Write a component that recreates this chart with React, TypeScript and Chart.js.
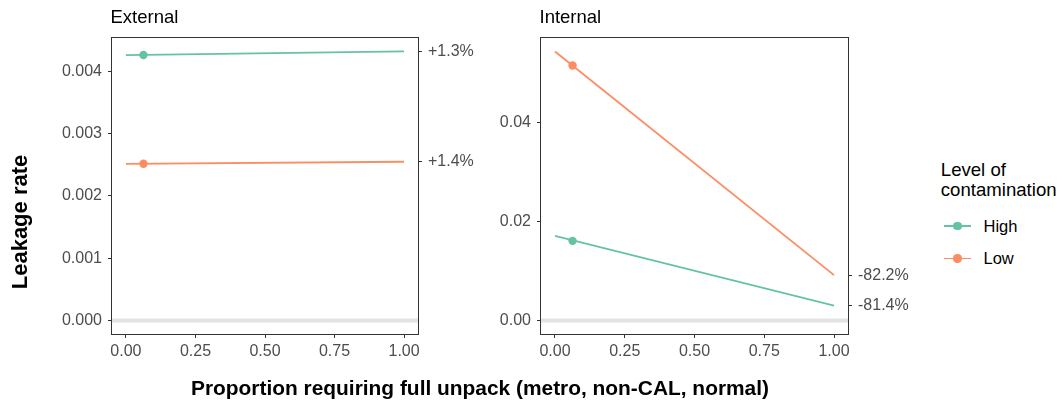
import React, { useEffect, useRef } from "react";
import { Chart, registerables } from "chart.js";

Chart.register(...registerables);

// ---------- data ----------
const X_ENDS = [0, 1];
const POINT_X = 0.063;
const X_TICKS = [0, 0.25, 0.5, 0.75, 1];
const X_LABELS = ["0.00", "0.25", "0.50", "0.75", "1.00"];
const SERIES = ["High", "Low"];
const COLORS = ["#66C2A5", "#FC8D62"];
const REF_LINE = 0;

const EXT_HIGH = [0.00426, 0.004318];
const EXT_LOW = [0.002513, 0.002548];
const EXT_HIGH_PT = 0.004262;
const EXT_LOW_PT = 0.002515;
const EXT_Y_TICKS = [0, 0.001, 0.002, 0.003, 0.004];
const EXT_Y_LABELS = ["0.000", "0.001", "0.002", "0.003", "0.004"];
const EXT_CHANGE = ["+1.3%", "+1.4%"];

const INT_HIGH = [0.0171, 0.00299];
const INT_LOW = [0.0543, 0.00916];
const INT_HIGH_PT = 0.01608;
const INT_LOW_PT = 0.05146;
const INT_Y_TICKS = [0, 0.02, 0.04];
const INT_Y_LABELS = ["0.00", "0.02", "0.04"];
const INT_CHANGE = ["-81.4%", "-82.2%"];

const FONT = "'Liberation Sans', Arial, Helvetica, sans-serif";
const TICK_COLOR = "#4D4D4D";
const FRAME = "#333333";

type PanelSpec = {
  title: string;
  high: number[];
  low: number[];
  highPt: number;
  lowPt: number;
  yTicks: number[];
  yLabels: string[];
  change: string[];
  leftW: number;
  rightW: number;
};

function panelPlugin(title: string) {
  return {
    id: "panelDecor",
    beforeDatasetsDraw(chart: any) {
      const { ctx, chartArea: a, scales } = chart;
      const y = scales.y.getPixelForValue(REF_LINE);
      ctx.save();
      ctx.strokeStyle = "#E3E3E3";
      ctx.lineWidth = 4;
      ctx.beginPath();
      ctx.moveTo(a.left, y);
      ctx.lineTo(a.right, y);
      ctx.stroke();
      ctx.restore();
    },
    afterDraw(chart: any) {
      const { ctx, chartArea: a } = chart;
      ctx.save();
      ctx.strokeStyle = FRAME;
      ctx.lineWidth = 1;
      ctx.strokeRect(a.left - 0.5, a.top - 0.5, a.right - a.left + 1, a.bottom - a.top + 1);
      ctx.fillStyle = "#000";
      ctx.font = `18.5px ${FONT}`;
      ctx.textBaseline = "alphabetic";
      ctx.textAlign = "left";
      ctx.fillText(title, a.left - 1.5, 23.3);
      ctx.restore();
    },
  };
}

function makePanel(canvas: HTMLCanvasElement, p: PanelSpec) {
  const allY = [...p.high, ...p.low, p.highPt, p.lowPt, REF_LINE];
  const lo = Math.min(...allY);
  const hi = Math.max(...allY);
  const pad = (hi - lo) * 0.05;
  const yMin = lo - pad;
  const yMax = hi + pad;
  const ends = [p.high[1], p.low[1]];

  const grid = {
    drawOnChartArea: false,
    drawTicks: true,
    tickLength: 4,
    color: FRAME,
    lineWidth: 1,
  };
  const tickFont = { family: FONT, size: 16 };

  const seriesVals = [p.high, p.low];
  const ptVals = [p.highPt, p.lowPt];
  const datasets: any[] = [];
  SERIES.forEach((name, i) => {
    datasets.push({
      label: name,
      data: X_ENDS.map((x, j) => ({ x, y: seriesVals[i][j] })),
      showLine: true,
      borderColor: COLORS[i],
      backgroundColor: COLORS[i],
      borderWidth: 1.8,
      pointRadius: 0,
      pointHoverRadius: 0,
      yAxisID: "y",
    });
    datasets.push({
      label: name + " point",
      data: [{ x: POINT_X, y: ptVals[i] }],
      showLine: false,
      backgroundColor: COLORS[i],
      borderColor: COLORS[i],
      borderWidth: 0,
      pointRadius: 4.2,
      pointHoverRadius: 4.2,
      yAxisID: "y",
    });
  });

  return new Chart(canvas, {
    type: "scatter",
    data: { datasets },
    plugins: [panelPlugin(p.title) as any],
    options: {
      animation: false,
      responsive: false,
      devicePixelRatio: 1,
      events: [],
      layout: { padding: { top: 38, left: 0, right: 0, bottom: 0 } },
      plugins: { legend: { display: false }, tooltip: { enabled: false }, title: { display: false } },
      scales: {
        x: {
          type: "linear",
          min: -0.05,
          max: 1.05,
          grid,
          border: { display: false },
          afterBuildTicks: (s: any) => {
            s.ticks = X_TICKS.map((v) => ({ value: v }));
          },
          afterFit: (s: any) => {
            s.height = 71;
          },
          ticks: {
            font: tickFont,
            color: TICK_COLOR,
            padding: 3.5,
            maxRotation: 0,
            autoSkip: false,
            callback: (_v: any, i: number) => X_LABELS[i],
          },
        },
        y: {
          type: "linear",
          position: "left",
          min: yMin,
          max: yMax,
          grid,
          border: { display: false },
          afterBuildTicks: (s: any) => {
            s.ticks = p.yTicks.map((v) => ({ value: v }));
          },
          afterFit: (s: any) => {
            s.width = p.leftW;
          },
          ticks: {
            font: tickFont,
            color: TICK_COLOR,
            padding: 6,
            autoSkip: false,
            callback: (_v: any, i: number) => p.yLabels[i],
          },
        },
        y2: {
          type: "linear",
          position: "right",
          min: yMin,
          max: yMax,
          grid,
          border: { display: false },
          afterBuildTicks: (s: any) => {
            s.ticks = ends.map((v) => ({ value: v }));
          },
          afterFit: (s: any) => {
            s.width = p.rightW;
          },
          ticks: {
            font: tickFont,
            color: TICK_COLOR,
            padding: 6,
            autoSkip: false,
            callback: (_v: any, i: number) => p.change[i],
          },
        },
      },
    } as any,
  });
}

export default function App() {
  const ref1 = useRef<HTMLCanvasElement>(null);
  const ref2 = useRef<HTMLCanvasElement>(null);

  useEffect(() => {
    const c1 = makePanel(ref1.current!, {
      title: "External",
      high: EXT_HIGH,
      low: EXT_LOW,
      highPt: EXT_HIGH_PT,
      lowPt: EXT_LOW_PT,
      yTicks: EXT_Y_TICKS,
      yLabels: EXT_Y_LABELS,
      change: EXT_CHANGE,
      leftW: 112,
      rightW: 62,
    });
    const c2 = makePanel(ref2.current!, {
      title: "Internal",
      high: INT_HIGH,
      low: INT_LOW,
      highPt: INT_HIGH_PT,
      lowPt: INT_LOW_PT,
      yTicks: INT_Y_TICKS,
      yLabels: INT_Y_LABELS,
      change: INT_CHANGE,
      leftW: 61,
      rightW: 82,
    });
    return () => {
      c1.destroy();
      c2.destroy();
    };
  }, []);

  const legendRows = [
    { y: 226, top: 216.3 },
    { y: 258.5, top: 248.3 },
  ];

  return (
    <div
      style={{
        position: "absolute",
        left: 0,
        top: 0,
        width: 1062,
        height: 405,
        background: "#fff",
        fontFamily: FONT,
        overflow: "hidden",
      }}
    >
      <canvas ref={ref1} width={480} height={405} style={{ position: "absolute", left: 0, top: 0 }} />
      <canvas ref={ref2} width={450} height={405} style={{ position: "absolute", left: 480, top: 0 }} />

      <div
        style={{
          position: "absolute",
          left: 19.5 - 150,
          top: 222 - 13,
          width: 300,
          height: 26,
          lineHeight: "26px",
          fontSize: 22,
          fontWeight: "bold",
          textAlign: "center",
          color: "#000",
          transform: "rotate(-90deg)",
          whiteSpace: "nowrap",
        }}
      >
        Leakage rate
      </div>

      <div
        style={{
          position: "absolute",
          left: 480 - 400,
          top: 374.5,
          width: 800,
          height: 25,
          lineHeight: "25px",
          fontSize: 20.9,
          fontWeight: "bold",
          textAlign: "center",
          color: "#000",
          whiteSpace: "nowrap",
        }}
      >
        Proportion requiring full unpack (metro, non-CAL, normal)
      </div>

      <div
        style={{
          position: "absolute",
          left: 940.8,
          top: 159.6,
          fontSize: 18.6,
          lineHeight: "20px",
          color: "#000",
          whiteSpace: "nowrap",
        }}
      >
        Level of
        <br />
        contamination
      </div>

      {SERIES.map((name, i) => (
        <React.Fragment key={name}>
          <div
            style={{
              position: "absolute",
              left: 944,
              top: legendRows[i].y - 0.9,
              width: 27,
              height: 1.8,
              background: COLORS[i],
            }}
          />
          <div
            style={{
              position: "absolute",
              left: 957.5 - 4.2,
              top: legendRows[i].y - 4.2,
              width: 8.4,
              height: 8.4,
              borderRadius: "50%",
              background: COLORS[i],
            }}
          />
          <div
            style={{
              position: "absolute",
              left: 983.5,
              top: legendRows[i].top,
              fontSize: 16.5,
              lineHeight: "20px",
              color: "#000",
              whiteSpace: "nowrap",
            }}
          >
            {name}
          </div>
        </React.Fragment>
      ))}
    </div>
  );
}
